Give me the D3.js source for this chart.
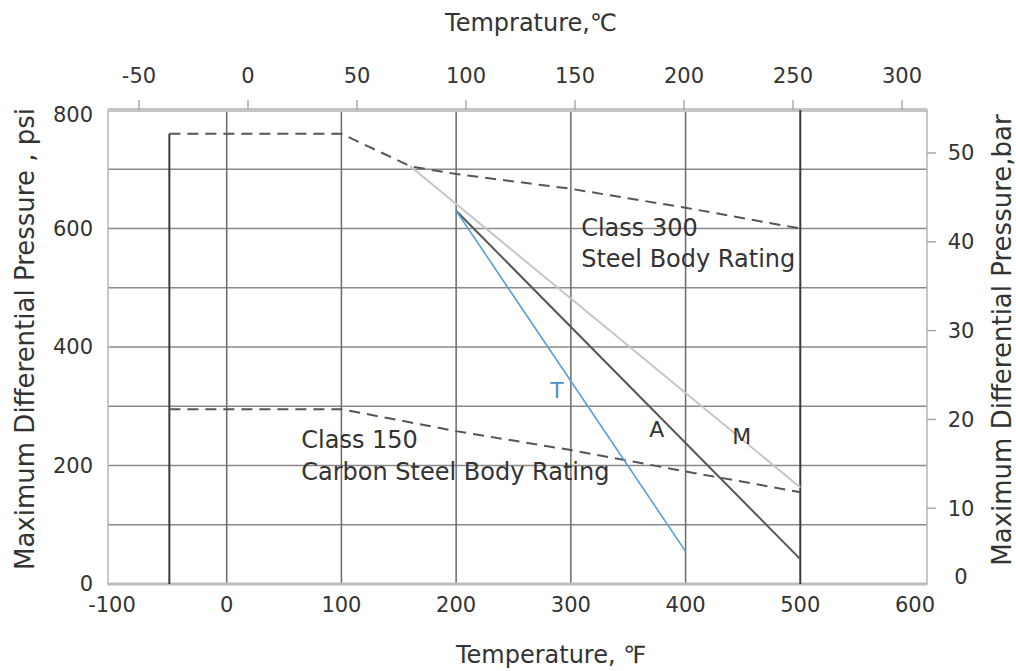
<!DOCTYPE html>
<html>
<head>
<meta charset="utf-8">
<script src="https://cdn.jsdelivr.net/npm/d3@7"></script>
<style>
  body { margin: 0; background: #fff; }
  text { font-family: "DejaVu Sans", sans-serif; fill: #333; }
</style>
</head>
<body>
<script>
// temperature ticks
var fTicks = [-100, 0, 100, 200, 300, 400, 500, 600];
var cTicks = [-50, 0, 50, 100, 150, 200, 250, 300];
var psiTicks = [0, 200, 400, 600, 800];
var psiGrid = [100, 200, 300, 400, 500, 600, 700];
var fGrid = [0, 100, 200, 300, 400];
var barTicks = [0, 10, 20, 30, 40, 50];

// ratings, [degF, psi]
var class300 = [[-50, 760], [100, 760], [160, 705], [200, 692], [300, 667], [400, 635], [500, 600]];
var class150 = [[-50, 295], [100, 295], [200, 258], [300, 226], [400, 190], [500, 155]];
var lineM = [[160, 705], [500, 163]];
var lineA = [[200, 630], [500, 42]];
var lineT = [[200, 630], [400, 55]];
var envelope = [[-50, 0], [-50, 760]];
var rightEdge = [[500, 0], [500, 800]];

var width = 1016, height = 671;
var pL = 108, pR = 927, pT = 110, pB = 584;

var svg = d3.select("body").append("svg").attr("width", width).attr("height", height);

var x = d3.scaleLinear().domain([-100, 600]).range([112, 915]);
var y = d3.scaleLinear().domain([0, 800]).range([pB, pT]);
var xc = d3.scaleLinear().domain([-50, 300]).range([139, 902]);
var yBar = d3.scaleLinear().domain([0, 50]).range([597, 153]);

var line = d3.line().x(function(d) { return x(d[0]); }).y(function(d) { return y(d[1]); });

// grid
svg.append("g").selectAll("line").data(psiGrid).enter().append("line")
  .attr("x1", pL).attr("x2", pR)
  .attr("y1", function(d) { return y(d); }).attr("y2", function(d) { return y(d); })
  .attr("stroke", "#8a8a8a").attr("stroke-width", 1.5);

svg.append("g").selectAll("line").data(fGrid).enter().append("line")
  .attr("x1", function(d) { return x(d); }).attr("x2", function(d) { return x(d); })
  .attr("y1", pT).attr("y2", pB)
  .attr("stroke", "#6a6a6a").attr("stroke-width", 1.5);

// frame
svg.append("rect").attr("x", pL).attr("y", pT).attr("width", pR - pL).attr("height", pB - pT)
  .attr("fill", "none").attr("stroke", "#b5b5b5").attr("stroke-width", 1.5);
svg.append("line").attr("x1", pL).attr("x2", pR).attr("y1", pT).attr("y2", pT)
  .attr("stroke", "#c4c4c4").attr("stroke-width", 4);
svg.append("line").attr("x1", pL).attr("x2", pR).attr("y1", pB).attr("y2", pB)
  .attr("stroke", "#bdbdbd").attr("stroke-width", 3);

// envelope edges
svg.append("path").datum(envelope).attr("d", line).attr("fill", "none").attr("stroke", "#3a3a3a").attr("stroke-width", 2);
svg.append("path").datum(rightEdge).attr("d", line).attr("fill", "none").attr("stroke", "#3a3a3a").attr("stroke-width", 2);

// body ratings
[class300, class150].forEach(function(c) {
  svg.append("path").datum(c).attr("d", line).attr("fill", "none")
    .attr("stroke", "#555").attr("stroke-width", 2).attr("stroke-dasharray", "11,7");
});

// trims
svg.append("path").datum(lineM).attr("d", line).attr("fill", "none").attr("stroke", "#c6c6c6").attr("stroke-width", 2);
svg.append("path").datum(lineA).attr("d", line).attr("fill", "none").attr("stroke", "#555").attr("stroke-width", 2);
svg.append("path").datum(lineT).attr("d", line).attr("fill", "none").attr("stroke", "#5b9fd2").attr("stroke-width", 1.6);

// bottom axis labels
svg.append("g").selectAll("text").data(fTicks).enter().append("text")
  .attr("x", function(d) { return x(d); }).attr("y", 612)
  .attr("text-anchor", "middle").style("font-size", "21px")
  .text(function(d) { return d < 0 ? "-" + Math.abs(d) : d; });

// left axis labels
svg.append("g").selectAll("text").data(psiTicks).enter().append("text")
  .attr("x", 93).attr("y", function(d) { return Math.max(y(d), pT + 5); }).attr("dy", "0.35em")
  .attr("text-anchor", "end").style("font-size", "21px")
  .text(function(d) { return d; });

// top axis, celsius
var gTop = svg.append("g");
gTop.selectAll("line").data(cTicks).enter().append("line")
  .attr("x1", function(d) { return xc(d); }).attr("x2", function(d) { return xc(d); })
  .attr("y1", pT - 10).attr("y2", pT).attr("stroke", "#aaa").attr("stroke-width", 1.5);
gTop.selectAll("text").data(cTicks).enter().append("text")
  .attr("x", function(d) { return xc(d); }).attr("y", 83)
  .attr("text-anchor", "middle").style("font-size", "21px")
  .text(function(d) { return d; });

// right axis, bar
var gRight = svg.append("g");
gRight.selectAll("line").data(barTicks.filter(function(d) { return d > 0; })).enter().append("line")
  .attr("x1", pR).attr("x2", pR + 9)
  .attr("y1", function(d) { return yBar(d); }).attr("y2", function(d) { return yBar(d); })
  .attr("stroke", "#aaa").attr("stroke-width", 1.5);
gRight.selectAll("text").data(barTicks).enter().append("text")
  .attr("x", 961).attr("y", function(d) { return Math.min(yBar(d), pB - 7); }).attr("dy", "0.35em")
  .attr("text-anchor", "middle").style("font-size", "21px")
  .text(function(d) { return d; });

// axis titles
svg.append("text").attr("x", 531).attr("y", 31).attr("text-anchor", "middle")
  .style("font-size", "24px").text("Temprature,℃");
svg.append("text").attr("x", 551).attr("y", 663).attr("text-anchor", "middle")
  .style("font-size", "24px").text("Temperature, ℉");
svg.append("text").attr("transform", "translate(34,339)rotate(-90)").attr("text-anchor", "middle")
  .style("font-size", "26px").text("Maximum Differential Pressure , psi");
svg.append("text").attr("transform", "translate(1011,340)rotate(-90)").attr("text-anchor", "middle")
  .style("font-size", "26px").text("Maximum Differential Pressure,bar");

// notes
var notes = [
  {t: "Class 300", f: 309, p: 587, c: "#333", a: "start"},
  {t: "Steel Body Rating", f: 309, p: 535, c: "#333", a: "start"},
  {t: "Class 150", f: 65, p: 229, c: "#333", a: "start"},
  {t: "Carbon Steel Body Rating", f: 65, p: 175, c: "#333", a: "start"},
  {t: "T", f: 288, p: 314, c: "#4a90c8", a: "middle"},
  {t: "A", f: 375, p: 248, c: "#333", a: "middle"},
  {t: "M", f: 449, p: 236, c: "#333", a: "middle"}
];
svg.append("g").selectAll("text").data(notes).enter().append("text")
  .attr("x", function(d) { return x(d.f); }).attr("y", function(d) { return y(d.p); })
  .attr("text-anchor", function(d) { return d.a; })
  .style("font-size", function(d) { return d.t.length > 1 ? "24px" : "22px"; })
  .style("fill", function(d) { return d.c; })
  .text(function(d) { return d.t; });
</script>
</body>
</html>
